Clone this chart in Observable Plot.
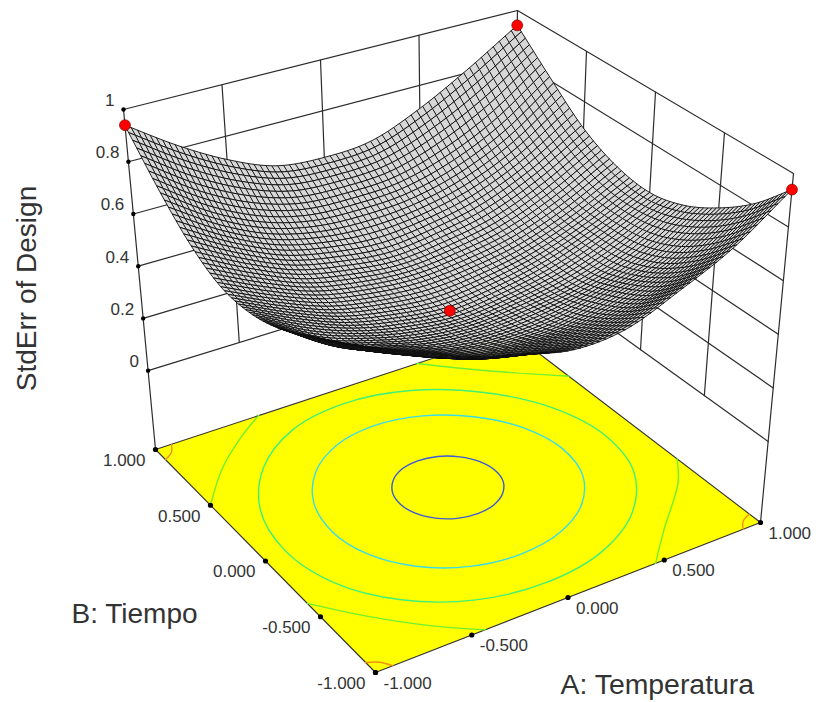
<!DOCTYPE html>
<html><head><meta charset="utf-8">
<style>html,body{margin:0;padding:0;background:#fff}svg{display:block}</style>
<script src="https://cdn.jsdelivr.net/npm/d3@7"></script>
<script src="https://cdn.jsdelivr.net/npm/@observablehq/plot@0.6"></script>
</head><body><div id="chart"></div>
<script>
// Values
const levels = [-1,-0.75,-0.5,-0.25,0,0.25,0.5,0.75,1];
// Estimated surface heights: one row per B level (-1..1), one column per A level (-1..1).
// The fine mesh below is a drawing-only smoothing of this coarse table, not read cell by cell.
const stdErr = [
 [0.845,0.766,0.69,0.64,0.596,0.61,0.69,0.79,0.94],
 [0.776,0.68,0.60,0.54,0.52,0.53,0.58,0.67,0.81],
 [0.71,0.60,0.53,0.47,0.45,0.46,0.51,0.58,0.714],
 [0.645,0.53,0.47,0.425,0.41,0.425,0.46,0.53,0.643],
 [0.61,0.52,0.45,0.41,0.39,0.41,0.45,0.52,0.61],
 [0.615,0.53,0.46,0.425,0.41,0.425,0.46,0.53,0.63],
 [0.68,0.58,0.50,0.46,0.44,0.46,0.50,0.58,0.695],
 [0.795,0.67,0.58,0.53,0.52,0.53,0.58,0.67,0.81],
 [0.94,0.815,0.71,0.635,0.617,0.632,0.708,0.815,0.94]
];
const designA = [-1,1,1,0];
const designB = [1,1,-1,0];
const designZ = [0.94,0.94,0.94,0.39];
const zTicks = [0,0.2,0.4,0.6,0.8,1];
const zLabels = ["0","0.2","0.4","0.6","0.8","1"];
const floorTicks = [-1,-0.5,0,0.5,1];
const floorLabels = ["-1.000","-0.500","0.000","0.500","1.000"];
// Closed floor contours: first-quadrant offsets from each contour's own centre, mirrored
const contourBlue = [[0.256,0],[0.237,0.098],[0.181,0.181],[0.098,0.237],[0,0.256]];
const contourCyan = [[0.623,0],[0.576,0.238],[0.44,0.44],[0.238,0.576],[0,0.623]];
const contourAqua = [[0.865,0],[0.8,0.33],[0.61,0.61],[0.33,0.8],[0,0.865]];
const centreBlue = [0.019,0.056];
const centreCyan = [0.005,0.038];
const centreAqua = [-0.016,0.022];
// Open floor contours, read as (A,B) points in each corner
const arcBackLeft = [[-1,0.5],[-0.8,0.72],[-0.59,0.89],[-0.42,1]];
const arcFront = [[-1,-0.38],[-0.82,-0.61],[-0.61,-0.84],[-0.43,-1]];
const arcRight = [[0.455,-1],[0.63,-0.792],[0.89,-0.504],[1,-0.33]];
const arcBack = [[0.47,1],[0.712,0.78],[1,0.54]];
const contourOrange = [[1,0.91],[0.945,0.945],[0.91,1]];

// View: where the floor and the z=1 plane fall on the page (corners F, R, Bk, L)
const floorQuad = [[375,672],[760,522],[511,332],[155,449]];
const topQuad = [[361,302],[793,173],[517,10],[123,109]];
const zFloor = -0.302;

function bilinear(q,u,v){
  return [0,1].map(k=>q[0][k]*(1-u)*(1-v)+q[1][k]*u*(1-v)+q[2][k]*u*v+q[3][k]*(1-u)*v);
}
function project(A,B,Z){
  const u=(A+1)/2,v=(B+1)/2,t=(Z-zFloor)/(1-zFloor);
  const f=bilinear(floorQuad,u,v),p=bilinear(topQuad,u,v);
  return [f[0]+(p[0]-f[0])*t,f[1]+(p[1]-f[1])*t];
}
const floorPt=(A,B)=>project(A,B,zFloor);

// Catmull-Rom refinement of the estimated table, for drawing the mesh only
function cr(p,s){
  const n=p.length-1,x=Math.min(n-1e-9,Math.max(0,s*n)),i=Math.floor(x),t=x-i;
  const p1=p[i],p2=p[i+1],p0=i>0?p[i-1]:2*p1-p2,p3=i+2<=n?p[i+2]:2*p2-p1;
  return 0.5*(2*p1+(p2-p0)*t+(2*p0-5*p1+4*p2-p3)*t*t+(3*p1-p0-3*p2+p3)*t*t*t);
}
function surf(u,v){return cr(stdErr.map(r=>cr(r,u)),v);}

const N=66, cells=[];
const order=[];
for(let i=0;i<N;i++)for(let j=0;j<N;j++)order.push([i,j]);
order.sort((p,q)=>(q[0]+q[1])-(p[0]+p[1]));
const vert=(i,j)=>{const u=i/N,v=j/N;return project(2*u-1,2*v-1,surf(u,v));};
order.forEach(([i,j],k)=>{
  for(const [di,dj] of [[0,0],[1,0],[1,1],[0,1]]){
    const [x,y]=vert(i+di,j+dj);cells.push({x,y,k});
  }
});

// Walls
const wall=[];let wid=0;
const push=pts=>{wid++;pts.forEach(([x,y])=>wall.push({x,y,id:wid}));};
for(const z of zTicks){
  push([project(-1,1,z),project(1,1,z),project(1,-1,z)]);
}
for(const t of [-0.5,0,0.5,1]) push([project(t,1,0),project(t,1,1)]);
for(const t of [0.5,0,-0.5]) push([project(1,t,0),project(1,t,1)]);
push([floorPt(-1,1),project(-1,1,1)]);
push([floorPt(1,-1),project(1,-1,1)]);

const floorPoly=[[-1,-1],[1,-1],[1,1],[-1,1]].map(([a,b])=>{const [x,y]=floorPt(a,b);return {x,y};});

// Contours
const contourRows=[], arcRows=[];let cid=0;
function ring(pts,centre,color){
  cid++;
  [[1,1],[-1,1],[-1,-1],[1,-1]].forEach(([p,q],n)=>{
    const list=(n%2?pts.slice().reverse():pts).slice(0,-1);
    list.forEach(([a,b])=>{const [x,y]=floorPt(p*a+centre[0],q*b+centre[1]);contourRows.push({x,y,id:cid,color});});
  });
}
function arc(pts,color){
  cid++;
  pts.forEach(([a,b])=>{const [x,y]=floorPt(a,b);arcRows.push({x,y,id:cid,color});});
}
ring(contourBlue,centreBlue,"#3a5ad8");
ring(contourCyan,centreCyan,"#38dce8");
ring(contourAqua,centreAqua,"#40f078");
[arcBackLeft,arcFront,arcRight,arcBack].forEach(p=>arc(p,"#70f030"));
[[1,1],[-1,1],[-1,-1],[1,-1]].forEach(([p,q])=>arc(contourOrange.map(([a,b])=>[p*a,q*b]),"#f09010"));

// Ticks and labels
const zTickRows=zTicks.map((z,i)=>{const [x,y]=project(-1,1,z);return {x,y,label:zLabels[i]};});
const aTickRows=floorTicks.map((t,i)=>{const [x,y]=floorPt(t,-1);return {x,y,label:floorLabels[i]};});
const bTickRows=floorTicks.map((t,i)=>{const [x,y]=floorPt(-1,t);return {x,y,label:floorLabels[i]};});
const designRows=designA.map((a,i)=>{const [x,y]=project(a,designB[i],designZ[i]);return {x,y};});

const font="Liberation Sans, Arial, sans-serif", ink="#333";
const plot=Plot.plot({
  width:819,height:702,margin:0,
  style:{background:"#fff",fontFamily:font},
  x:{domain:[0,819],range:[0,819],axis:null},
  y:{domain:[0,702],range:[0,702],axis:null},
  marks:[
    Plot.line(wall,{x:"x",y:"y",z:"id",stroke:"#2c2c2c",strokeWidth:1.2}),
    Plot.line(floorPoly,{x:"x",y:"y",curve:"linear-closed",fill:"#ffff00",stroke:"#333",strokeWidth:1.1}),
    Plot.line(contourRows,{x:"x",y:"y",z:"id",stroke:"color",strokeWidth:1.4,curve:"catmull-rom-closed"}),
    Plot.line(arcRows,{x:"x",y:"y",z:"id",stroke:"color",strokeWidth:1.4,curve:"catmull-rom"}),
    Plot.line(cells,{x:"x",y:"y",z:"k",curve:"linear-closed",fill:"#d8d8d8",stroke:"#0c0c0c",strokeWidth:0.9}),
    Plot.dot(designRows,{x:"x",y:"y",r:5.5,fill:"#ff0000",stroke:"#600",strokeWidth:0.6}),
    Plot.dot(zTickRows,{x:"x",y:"y",r:2.2,fill:"#000"}),
    Plot.dot(aTickRows,{x:"x",y:"y",r:2.6,fill:"#000"}),
    Plot.dot(bTickRows,{x:"x",y:"y",r:2.6,fill:"#000"}),
    Plot.text(zTickRows,{x:"x",y:"y",text:"label",dx:-9,dy:-9,textAnchor:"end",fontSize:17,fill:ink}),
    Plot.text(aTickRows,{x:"x",y:"y",text:"label",dx:8,dy:11,textAnchor:"start",fontSize:17,fill:ink}),
    Plot.text(bTickRows,{x:"x",y:"y",text:"label",dx:-10,dy:11,textAnchor:"end",fontSize:17,fill:ink}),
    Plot.text(["StdErr of Design"],{frameAnchor:"top-left",dx:27,dy:288,rotate:-90,textAnchor:"middle",lineAnchor:"middle",fontSize:28,fill:ink}),
    Plot.text(["B: Tiempo"],{frameAnchor:"top-left",dx:71,dy:614,textAnchor:"start",lineAnchor:"middle",fontSize:28,fill:ink}),
    Plot.text(["A: Temperatura"],{frameAnchor:"top-left",dx:560,dy:684,textAnchor:"start",lineAnchor:"middle",fontSize:28.4,fill:ink})
  ]
});
document.getElementById("chart").appendChild(plot);
</script></body></html>
